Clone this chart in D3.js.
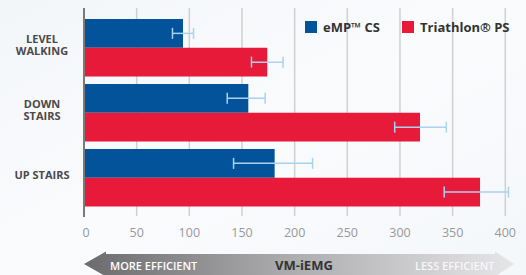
<!DOCTYPE html>
<html>
<head>
<meta charset="utf-8">
<script src="https://cdn.jsdelivr.net/npm/d3@7"></script>
<style>
  html, body { margin: 0; padding: 0; background: #f6f8fa; }
  svg { display: block; font-family: "Open Sans", sans-serif; }
</style>
</head>
<body>
<svg id="chart" width="526" height="275"></svg>
<script>
// activity categories (label lines per category)
const categories = ["LEVEL WALKING", "DOWN STAIRS", "UP STAIRS"];
const categoryLines = [["LEVEL", "WALKING"], ["DOWN", "STAIRS"], ["UP STAIRS"]];

// series names
const seriesNames = ["eMP\u2122 CS", "Triathlon\u00AE PS"];

// eMP CS: mean and error range
const empValues = [94, 156, 181];
const empLow = [84, 136, 142];
const empHigh = [104, 172, 217];

// Triathlon PS: mean and error range
const triValues = [174, 319, 376];
const triLow = [159, 295, 342];
const triHigh = [189, 344, 403];

const xTicks = [0, 50, 100, 150, 200, 250, 300, 350, 400];

const colors = ["#02539a", "#e71a39"];

const svg = d3.select("#chart");

// soft background shading
const defs = svg.append("defs");
const bg = defs.append("linearGradient").attr("id", "bg")
  .attr("x1", "0").attr("y1", "0").attr("x2", "1").attr("y2", "1");
bg.append("stop").attr("offset", "0").attr("stop-color", "#f3f6f9");
bg.append("stop").attr("offset", "0.5").attr("stop-color", "#fafbfd");
bg.append("stop").attr("offset", "1").attr("stop-color", "#f4f7fa");
svg.append("rect").attr("width", 526).attr("height", 275).attr("fill", "url(#bg)");

const x = d3.scaleLinear().domain([0, 400]).range([84, 505.3]);
const y = d3.scaleBand().domain(categories).range([19, 206.5]).paddingInner(0.115);
const sub = d3.scaleBand().domain([0, 1]).range([0, y.bandwidth()]);

// grid lines
svg.append("g")
  .selectAll("line")
  .data(xTicks.slice(1))
  .enter()
  .append("line")
  .attr("x1", d => x(d)).attr("x2", d => x(d))
  .attr("y1", 8).attr("y2", 216)
  .attr("stroke", "#d0d0d0")
  .attr("stroke-width", 1.5);

// tick labels
svg.append("g")
  .selectAll("text")
  .data(xTicks)
  .enter()
  .append("text")
  .attr("x", d => x(d) + (d === 0 ? 2 : 0))
  .attr("y", 236.5)
  .attr("text-anchor", "middle")
  .attr("fill", "#999")
  .style("font-size", "12.5px")
  .text(d => d);

// bars
const series = [
  { values: empValues, low: empLow, high: empHigh },
  { values: triValues, low: triLow, high: triHigh }
];

series.forEach((s, si) => {
  svg.append("g")
    .selectAll("rect")
    .data(categories)
    .enter()
    .append("rect")
    .attr("x", x(0))
    .attr("y", d => y(d) + sub(si))
    .attr("width", (d, i) => x(s.values[i]) - x(0))
    .attr("height", sub.bandwidth())
    .attr("fill", colors[si]);
});

// error bars
series.forEach((s, si) => {
  const g = svg.append("g")
    .attr("stroke", "#a9d2ee")
    .attr("stroke-width", 1.5);
  categories.forEach((c, i) => {
    const cy = y(c) + sub(si) + sub.bandwidth() / 2;
    g.append("line")
      .attr("x1", x(s.low[i])).attr("x2", x(s.high[i]))
      .attr("y1", cy).attr("y2", cy);
    [s.low[i], s.high[i]].forEach(v => {
      g.append("line")
        .attr("x1", x(v)).attr("x2", x(v))
        .attr("y1", cy - 5.5).attr("y2", cy + 5.5);
    });
  });
});

// vertical axis line
svg.append("line")
  .attr("x1", x(0)).attr("x2", x(0))
  .attr("y1", 8).attr("y2", 217)
  .attr("stroke", "#7a7a7a")
  .attr("stroke-width", 2);

// category labels
categories.forEach((c, i) => {
  const lines = categoryLines[i];
  const cy = y(c) + y.bandwidth() / 2 - 3;
  const t = svg.append("text")
    .attr("text-anchor", "middle")
    .attr("fill", "#4a4a4a")
    .style("font-size", "11px")
    .style("font-weight", "bold");
  lines.forEach((ln, j) => {
    t.append("tspan")
      .attr("x", 42)
      .attr("y", cy + 4 + (j - (lines.length - 1) / 2) * 12.5)
      .text(ln);
  });
});

// legend
const legendX = [305, 402];
seriesNames.forEach((n, i) => {
  svg.append("rect")
    .attr("x", legendX[i]).attr("y", 21)
    .attr("width", 12).attr("height", 12)
    .attr("fill", colors[i]);
  svg.append("text")
    .attr("x", legendX[i] + 18).attr("y", 31.5)
    .attr("fill", "#333")
    .style("font-size", "13px")
    .style("font-weight", "bold")
    .text(n);
});

// efficiency arrow at the bottom
const ag = defs.append("linearGradient").attr("id", "arrowGrad")
  .attr("gradientUnits", "userSpaceOnUse")
  .attr("x1", 84).attr("x2", 514).attr("y1", 0).attr("y2", 0);
ag.append("stop").attr("offset", "0").attr("stop-color", "#6b6b6d");
ag.append("stop").attr("offset", "0.45").attr("stop-color", "#a9a9ab");
ag.append("stop").attr("offset", "1").attr("stop-color", "#e6e6e8");

svg.append("path")
  .attr("d", "M84,264 L106,251.5 L106,254 L495,254 L495,251.5 L514,264 L495,276.5 L495,280 L106,280 L106,276.5 Z")
  .attr("fill", "url(#arrowGrad)");

svg.append("text")
  .attr("x", 110).attr("y", 269.5)
  .attr("fill", "#fff")
  .style("font-size", "11px")
  .style("font-weight", "600")
  .text("MORE EFFICIENT");

svg.append("text")
  .attr("x", 275).attr("y", 269.5)
  .attr("fill", "#333")
  .style("font-size", "13px")
  .style("font-weight", "bold")
  .text("VM-iEMG");

svg.append("text")
  .attr("x", 415).attr("y", 269.5)
  .attr("fill", "#f7f7f7")
  .style("font-size", "11px")
  .style("font-weight", "600")
  .text("LESS EFFICIENT");
</script>
</body>
</html>
